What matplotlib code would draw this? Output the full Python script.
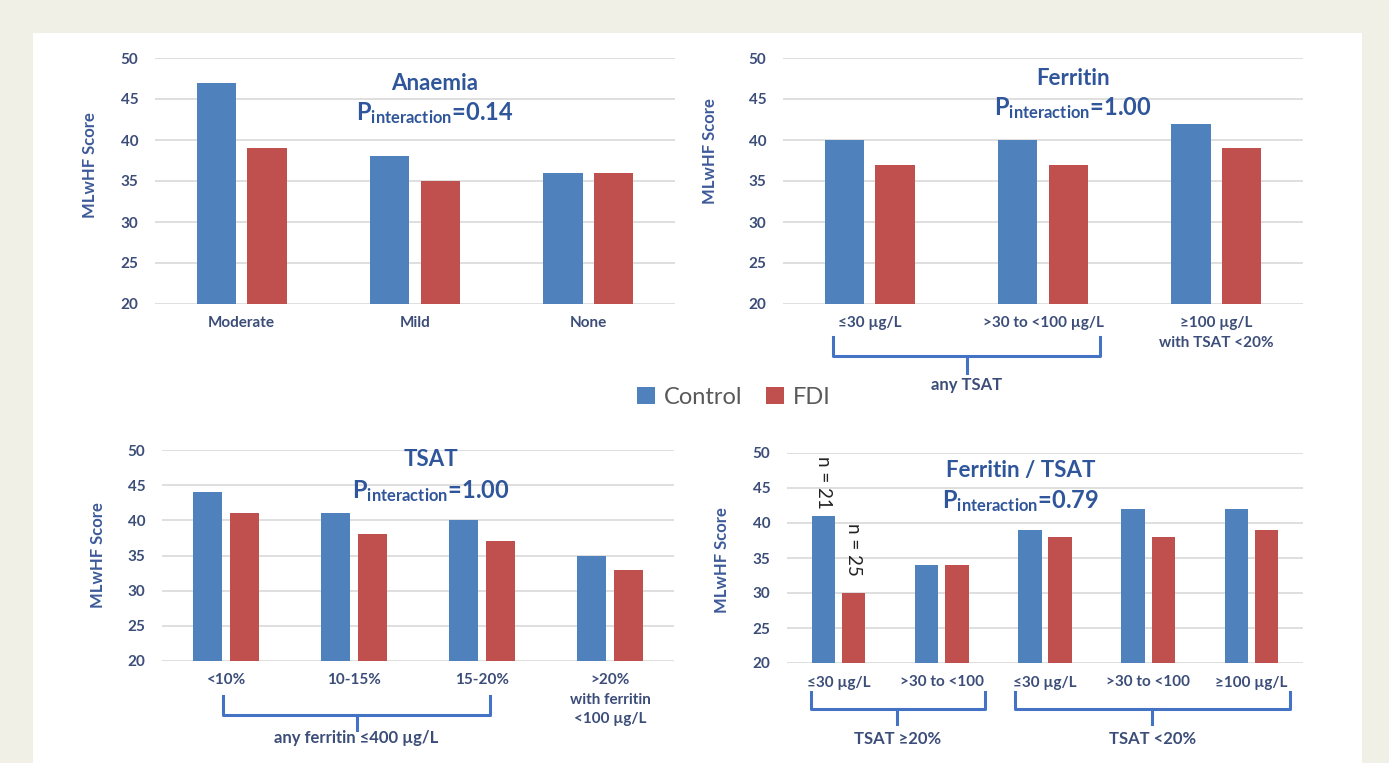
import numpy as np
import matplotlib
matplotlib.use("Agg")
import matplotlib.pyplot as plt
from matplotlib.patches import Rectangle, Patch
from matplotlib.transforms import blended_transform_factory

plt.rcParams['font.family'] = ['Lato', 'DejaVu Sans']
plt.rcParams['mathtext.fontset'] = 'custom'
plt.rcParams['mathtext.rm'] = 'Lato:bold'
plt.rcParams['mathtext.it'] = 'Lato:bold'
plt.rcParams['mathtext.bf'] = 'Lato:bold'

# data
anaemia_cats = ['Moderate', 'Mild', 'None']
anaemia_control = [47, 38, 36]
anaemia_fdi = [39, 35, 36]

ferritin_cats = ['≤30 µg/L', '>30 to <100 µg/L', '≥100 µg/L\nwith TSAT <20%']
ferritin_control = [40, 40, 42]
ferritin_fdi = [37, 37, 39]

tsat_cats = ['<10%', '10-15%', '15-20%', '>20%\nwith ferritin\n<100 µg/L']
tsat_control = [44, 41, 40, 35]
tsat_fdi = [41, 38, 37, 33]

ft_cats = ['≤30 µg/L', '>30 to <100', '≤30 µg/L', '>30 to <100', '≥100 µg/L']
ft_control = [41, 34, 39, 42, 42]
ft_fdi = [30, 34, 38, 38, 39]
ft_n_control = 21
ft_n_fdi = 25

BLUE = '#4f81bd'
RED = '#c0504d'
TITLE_C = '#2f559a'
TICK_C = '#3b4d78'
BRACE_C = '#4472c4'

W, H = 1389, 763
fig = plt.figure(figsize=(W / 100, H / 100), dpi=100, facecolor='#f0f0e6')
fig.patches.append(Rectangle((33 / W, 0), (1362 - 33) / W, (H - 33) / H,
                             transform=fig.transFigure, facecolor='white',
                             edgecolor='none', zorder=-1))


def px_axes(x0, x1, ytop, ybot):
    return fig.add_axes([x0 / W, 1 - ybot / H, (x1 - x0) / W, (ybot - ytop) / H])


def panel(ax, cats, control, fdi, title, pval, tx, ty, py, ylab_y):
    x = np.arange(len(cats))
    w = 0.228
    ax.bar(x - 0.146, control, w, bottom=0, color=BLUE, zorder=3)
    ax.bar(x + 0.146, fdi, w, bottom=0, color=RED, zorder=3)
    ax.set_ylim(20, 50)
    ax.set_xlim(-0.5, len(cats) - 0.5)
    ax.set_yticks(range(20, 51, 5))
    ax.grid(axis='y', color='#d9d9d9', lw=1.2, zorder=0)
    for s in ax.spines.values():
        s.set_visible(False)
    ax.set_xticks(x)
    ax.set_xticklabels(cats, fontsize=11, fontweight='bold', color=TICK_C,
                       linespacing=1.5)
    ax.tick_params(axis='both', length=0)
    ax.tick_params(axis='x', pad=9)
    ax.tick_params(axis='y', pad=12)
    for lab in ax.get_yticklabels():
        lab.set_fontsize(11)
        lab.set_fontweight('bold')
        lab.set_color(TICK_C)
    ax.set_ylabel('MLwHF Score', fontsize=12, fontweight='bold', color='#3d5a99')
    ax.yaxis.set_label_coords(-0.11, ylab_y)
    ax.text(tx, ty, title, transform=ax.transAxes, ha='center', va='center',
            fontsize=16, fontweight='bold', color=TITLE_C)
    ax.text(tx, py, r'P$_{\mathrm{interaction}}$=' + pval, transform=ax.transAxes,
            ha='center', va='center', fontsize=17, fontweight='bold', color=TITLE_C)


def brace(ax, x0, x1, xc, ytop, ymid, ytip, label, ylab):
    tr = blended_transform_factory(ax.transData, ax.transAxes)
    ax.plot([x0, x0, x1, x1], [ytop, ymid, ymid, ytop], color=BRACE_C, lw=2.2,
            transform=tr, clip_on=False, solid_joinstyle='round')
    ax.plot([xc, xc], [ymid, ytip], color=BRACE_C, lw=2.2, transform=tr, clip_on=False)
    ax.text(xc, ylab, label, transform=tr, ha='center', va='center',
            fontsize=12, fontweight='bold', color=TICK_C)


ax1 = px_axes(155, 675, 58, 304)
panel(ax1, anaemia_cats, anaemia_control, anaemia_fdi, 'Anaemia', '0.14',
      0.538, 0.898, 0.776, 0.565)

ax2 = px_axes(783, 1303, 58, 304)
panel(ax2, ferritin_cats, ferritin_control, ferritin_fdi, 'Ferritin', '1.00',
      0.558, 0.915, 0.795, 0.62)
ax2.yaxis.set_label_coords(-0.125, 0.62)
brace(ax2, -0.21, 1.33, 0.56, -0.135, -0.21, -0.28, 'any TSAT', -0.33)

ax3 = px_axes(162, 674, 450, 661)
panel(ax3, tsat_cats, tsat_control, tsat_fdi, 'TSAT', '1.00',
      0.525, 0.953, 0.806, 0.50)
brace(ax3, -0.02, 2.06, 1.02, -0.165, -0.255, -0.325, 'any ferritin ≤400 µg/L', -0.365)

ax4 = px_axes(787, 1303, 453, 663)
panel(ax4, ft_cats, ft_control, ft_fdi, 'Ferritin / TSAT', '0.79',
      0.453, 0.915, 0.773, 0.49)
brace(ax4, -0.27, 1.42, 0.57, -0.14, -0.22, -0.29, 'TSAT ≥20%', -0.36)
brace(ax4, 1.71, 4.37, 3.04, -0.14, -0.22, -0.29, 'TSAT <20%', -0.36)
ax4.annotate(f'n = {ft_n_control}', xy=(0 - 0.146, ft_control[0]), xytext=(0, 5),
             textcoords='offset points', rotation=-90, ha='center', va='bottom',
             fontsize=13.5, color='#222222')
ax4.annotate(f'n = {ft_n_fdi}', xy=(0 + 0.146, ft_fdi[0]), xytext=(0, 12),
             textcoords='offset points', rotation=-90, ha='center', va='bottom',
             fontsize=13.5, color='#222222')

handles = [Patch(facecolor=BLUE, label='Control'), Patch(facecolor=RED, label='FDI')]
fig.legend(handles=handles, loc='center', bbox_to_anchor=(734 / W, 1 - 397 / H),
           ncol=2, frameon=False, fontsize=17, handlelength=0.75, handleheight=0.75,
           handletextpad=0.4, columnspacing=1.0, labelcolor='#595959')

fig.savefig('out.png', dpi=100, facecolor=fig.get_facecolor())
